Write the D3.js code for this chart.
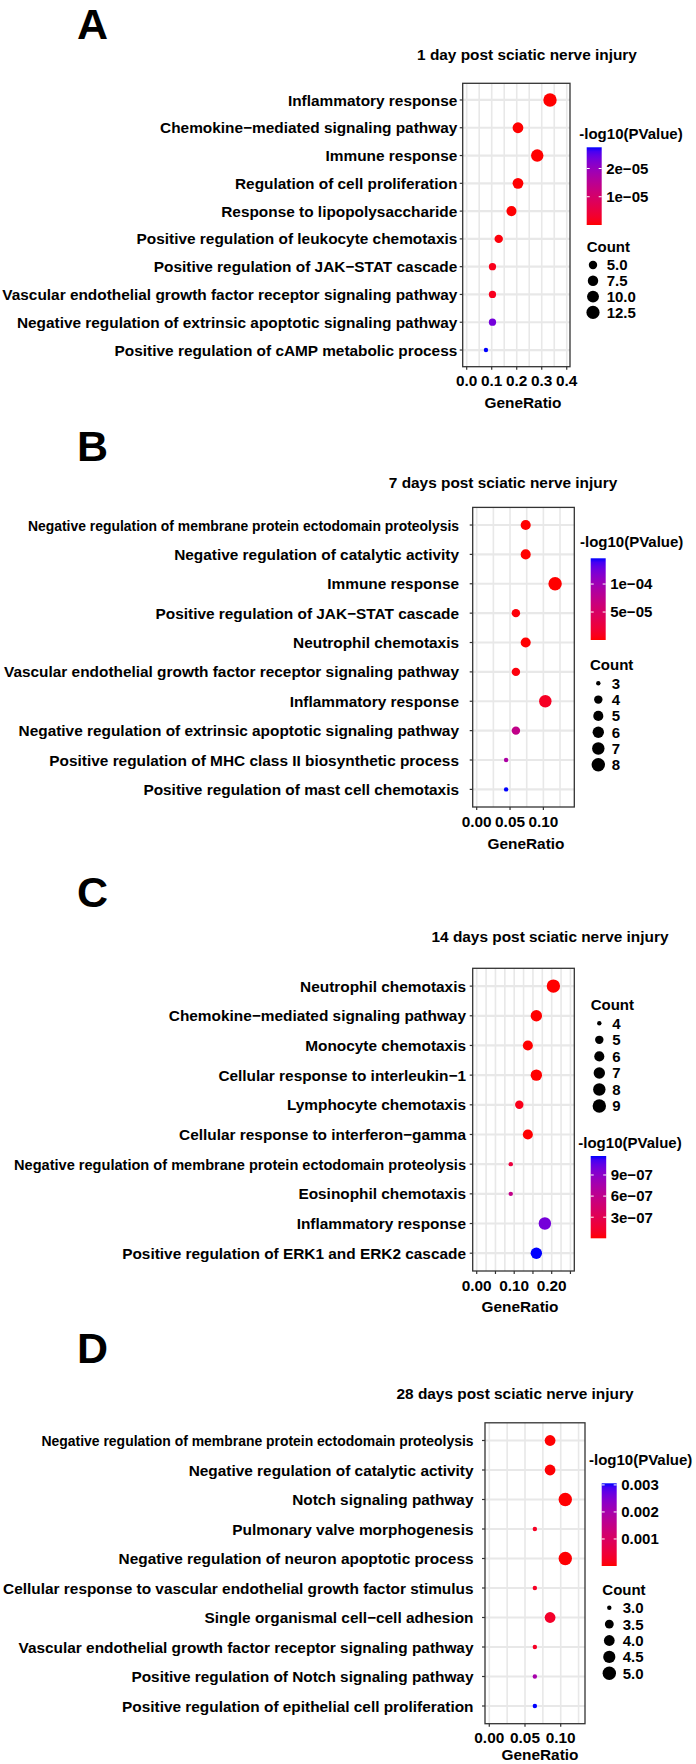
<!DOCTYPE html>
<html>
<head>
<meta charset="utf-8">
<script src="https://cdn.jsdelivr.net/npm/d3@7"></script>
<style>
  html, body { margin: 0; padding: 0; background: #fff; }
  svg { display: block; }
  text { font-family: "Liberation Sans", Arial, sans-serif; font-weight: bold; fill: #000; }
</style>
</head>
<body>
<svg id="chart" width="696" height="1764"></svg>
<script>
// ---------------- DATA ----------------
const panelLetters = ["A", "B", "C", "D"];
const panelTitles = [
  "1 day post sciatic nerve injury",
  "7 days post sciatic nerve injury",
  "14 days post sciatic nerve injury",
  "28 days post sciatic nerve injury"
];

// Panel A
const termsA = [
  "Inflammatory response",
  "Chemokine\u2212mediated signaling pathway",
  "Immune response",
  "Regulation of cell proliferation",
  "Response to lipopolysaccharide",
  "Positive regulation of leukocyte chemotaxis",
  "Positive regulation of JAK\u2212STAT cascade",
  "Vascular endothelial growth factor receptor signaling pathway",
  "Negative regulation of extrinsic apoptotic signaling pathway",
  "Positive regulation of cAMP metabolic process"
];
const ratioA = [0.333, 0.205, 0.282, 0.205, 0.179, 0.128, 0.103, 0.103, 0.103, 0.077];
const countA = [13, 8, 11, 8, 7, 5, 4, 4, 4, 3];
const pvalA  = [1e-9, 5e-9, 2e-9, 3e-8, 1e-7, 5e-7, 1.5e-6, 1.8e-6, 2.34e-5, 2.75e-5];

// Panel B
const termsB = [
  "Negative regulation of membrane protein ectodomain proteolysis",
  "Negative regulation of catalytic activity",
  "Immune response",
  "Positive regulation of JAK\u2212STAT cascade",
  "Neutrophil chemotaxis",
  "Vascular endothelial growth factor receptor signaling pathway",
  "Inflammatory response",
  "Negative regulation of extrinsic apoptotic signaling pathway",
  "Positive regulation of MHC class II biosynthetic process",
  "Positive regulation of mast cell chemotaxis"
];
const ratioB = [0.0735, 0.0735, 0.1176, 0.0588, 0.0735, 0.0588, 0.1029, 0.0588, 0.0441, 0.0441];
const countB = [5, 5, 8, 4, 5, 4, 7, 4, 3, 3];
const pvalB  = [1e-7, 3e-7, 1e-8, 2e-6, 5e-7, 3e-6, 1.17e-5, 7.3e-5, 9.05e-5, 1.46e-4];

// Panel C
const termsC = [
  "Neutrophil chemotaxis",
  "Chemokine\u2212mediated signaling pathway",
  "Monocyte chemotaxis",
  "Cellular response to interleukin\u22121",
  "Lymphocyte chemotaxis",
  "Cellular response to interferon\u2212gamma",
  "Negative regulation of membrane protein ectodomain proteolysis",
  "Eosinophil chemotaxis",
  "Inflammatory response",
  "Positive regulation of ERK1 and ERK2 cascade"
];
const ratioC = [0.2045, 0.1591, 0.1364, 0.1591, 0.1136, 0.1364, 0.0909, 0.0909, 0.1818, 0.1591];
const countC = [9, 7, 6, 7, 5, 6, 4, 4, 8, 7];
const pvalC  = [1e-12, 5e-11, 2e-10, 1e-10, 5.9e-8, 1e-9, 2.1e-7, 5.85e-7, 9.9e-7, 1.17e-6];

// Panel D
const termsD = [
  "Negative regulation of membrane protein ectodomain proteolysis",
  "Negative regulation of catalytic activity",
  "Notch signaling pathway",
  "Pulmonary valve morphogenesis",
  "Negative regulation of neuron apoptotic process",
  "Cellular response to vascular endothelial growth factor stimulus",
  "Single organismal cell\u2212cell adhesion",
  "Vascular endothelial growth factor receptor signaling pathway",
  "Positive regulation of Notch signaling pathway",
  "Positive regulation of epithelial cell proliferation"
];
const ratioD = [0.0851, 0.0851, 0.1064, 0.0638, 0.1064, 0.0638, 0.0851, 0.0638, 0.0638, 0.0638];
const countD = [4, 4, 5, 3, 5, 3, 4, 3, 3, 3];
const pvalD  = [1e-5, 2e-5, 1e-5, 2.4e-4, 1.5e-5, 2.4e-4, 3.1e-4, 2.5e-4, 1.99e-3, 3.06e-3];

// Axis ticks / labels
const xTicksA = [0, 0.1, 0.2, 0.3, 0.4];
const xTickLabelsA = ["0.0", "0.1", "0.2", "0.3", "0.4"];
const xTicksB = [0, 0.05, 0.10];
const xTickLabelsB = ["0.00", "0.05", "0.10"];
const xTicksC = [0, 0.05, 0.10, 0.15, 0.20, 0.25];
const xTickLabelsC = ["0.00", "", "0.10", "", "0.20", ""];
const xTicksD = [0, 0.05, 0.10];
const xTickLabelsD = ["0.00", "0.05", "0.10"];

const gridA = [0, 0.05, 0.1, 0.15, 0.2, 0.25, 0.3, 0.35, 0.4];
const gridB = [0, 0.025, 0.05, 0.075, 0.1, 0.125];
const gridC = [0, 0.025, 0.05, 0.075, 0.1, 0.125, 0.15, 0.175, 0.2, 0.225, 0.25];
const gridD = [0, 0.025, 0.05, 0.075, 0.1, 0.125];

// Legend breaks
const pTicksA = [1e-5, 2e-5];        const pTickLabelsA = ["1e\u221205", "2e\u221205"];
const pTicksB = [5e-5, 1e-4];        const pTickLabelsB = ["5e\u221205", "1e\u221204"];
const pTicksC = [3e-7, 6e-7, 9e-7];  const pTickLabelsC = ["3e\u221207", "6e\u221207", "9e\u221207"];
const pTicksD = [0.001, 0.002, 0.003]; const pTickLabelsD = ["0.001", "0.002", "0.003"];

const sizeBreaksA = [5, 7.5, 10, 12.5]; const sizeLabelsA = ["5.0", "7.5", "10.0", "12.5"];
const sizeBreaksB = [3, 4, 5, 6, 7, 8]; const sizeLabelsB = ["3", "4", "5", "6", "7", "8"];
const sizeBreaksC = [4, 5, 6, 7, 8, 9]; const sizeLabelsC = ["4", "5", "6", "7", "8", "9"];
const sizeBreaksD = [3, 3.5, 4, 4.5, 5]; const sizeLabelsD = ["3.0", "3.5", "4.0", "4.5", "5.0"];

// ---------------- LAYOUT ----------------
const LONG = "Negative regulation of membrane protein ectodomain proteolysis";
const panels = [
  { terms: termsA, ratio: ratioA, count: countA, pval: pvalA,
    xTicks: xTicksA, xTickLabels: xTickLabelsA, grid: gridA,
    pTicks: pTicksA, pTickLabels: pTickLabelsA, sizeBreaks: sizeBreaksA, sizeLabels: sizeLabelsA,
    L: { left: 462.7, right: 570, top: 83.3, bottom: 366.7, xDom: [-0.016, 0.413],
         labelEnd: 457.3, fit: {}, letterY: 39, titleX: 527, titleY: 60, axisTitleX: 523, axisTitleDy: 36,
         pDom: [0, 2.75e-5],
         cb: { x: 586.7, w: 15, top: 147.3, bottom: 225, titleX: 579.3, titleY: 133.3 },
         sz: { titleX: 586.7, titleY: 247, keyX: 593, y0: 265, step: 15.8, labelX: 606.7 } } },
  { terms: termsB, ratio: ratioB, count: countB, pval: pvalB,
    xTicks: xTicksB, xTickLabels: xTickLabelsB, grid: gridB,
    pTicks: pTicksB, pTickLabels: pTickLabelsB, sizeBreaks: sizeBreaksB, sizeLabels: sizeLabelsB,
    L: { left: 472.7, right: 574.3, top: 507.4, bottom: 807, xDom: [-0.006, 0.1464],
         labelEnd: 459, fit: { [LONG]: 431 }, letterY: 461, titleX: 503, titleY: 487.5, axisTitleX: 526, axisTitleDy: 36,
         pDom: [0, 1.46e-4],
         cb: { x: 590.7, w: 15, top: 558.3, bottom: 640, titleX: 580, titleY: 541.7 },
         sz: { titleX: 590, titleY: 664.3, keyX: 598.3, y0: 683.3, step: 16.3, labelX: 611.7 } } },
  { terms: termsC, ratio: ratioC, count: countC, pval: pvalC,
    xTicks: xTicksC, xTickLabels: xTickLabelsC, grid: gridC,
    pTicks: pTicksC, pTickLabels: pTickLabelsC, sizeBreaks: sizeBreaksC, sizeLabels: sizeLabelsC,
    L: { left: 472.7, right: 574.3, top: 968.3, bottom: 1271, xDom: [-0.0107, 0.2603],
         labelEnd: 466, fit: { [LONG]: 452 }, letterY: 907, titleX: 550, titleY: 941.5, axisTitleX: 520, axisTitleDy: 35.5,
         pDom: [0, 1.17e-6],
         cb: { x: 590.7, w: 15.5, top: 1156, bottom: 1238.3, titleX: 578.3, titleY: 1142.3 },
         sz: { titleX: 590.7, titleY: 1005, keyX: 599.3, y0: 1023.3, step: 16.55, labelX: 612.3 } } },
  { terms: termsD, ratio: ratioD, count: countD, pval: pvalD,
    xTicks: xTicksD, xTickLabels: xTickLabelsD, grid: gridD,
    pTicks: pTicksD, pTickLabels: pTickLabelsD, sizeBreaks: sizeBreaksD, sizeLabels: sizeLabelsD,
    L: { left: 485, right: 585, top: 1422.8, bottom: 1723.7, xDom: [-0.006, 0.134],
         labelEnd: 473.5, fit: { [LONG]: 432 }, letterY: 1363, titleX: 515, titleY: 1399, axisTitleX: 540, axisTitleDy: 30.5,
         pDom: [0, 3.06e-3],
         cb: { x: 601.7, w: 15, top: 1483.3, bottom: 1566, titleX: 589, titleY: 1460 },
         sz: { titleX: 602.3, titleY: 1589.3, keyX: 609.3, y0: 1607.7, step: 16.4, labelX: 622.7 } } }
];

const FS = 15.4;
const svg = d3.select("#chart");
svg.append("rect").attr("width", 696).attr("height", 1764).attr("fill", "#fff");
const defs = svg.append("defs");

panels.forEach((p, pi) => {
  const L = p.L;
  const g = svg.append("g");

  // letter + title
  g.append("text").attr("x", 77).attr("y", L.letterY)
    .style("font-size", "43px").text(panelLetters[pi]);
  g.append("text").attr("x", L.titleX).attr("y", L.titleY)
    .attr("text-anchor", "middle").style("font-size", FS + "px").text(panelTitles[pi]);

  // scales
  const x = d3.scaleLinear().domain(L.xDom).range([L.left, L.right]);
  const y = d3.scalePoint().domain(p.terms).range([L.top, L.bottom]).padding(0.6);
  const cmin = d3.min(p.count), cmax = d3.max(p.count);
  const sizeScale = d3.scaleSqrt().domain([0, cmax - cmin]).range([1, 6]);
  const radius = c => (1.8 * sizeScale(c - cmin) + 2.6) / 2;
  const color = d3.scaleLinear().domain(L.pDom).range(["#FF0000", "#0000FF"])
    .interpolate(d3.interpolateLab).clamp(true);

  // panel background and grid
  g.append("rect").attr("x", L.left).attr("y", L.top)
    .attr("width", L.right - L.left).attr("height", L.bottom - L.top).attr("fill", "#fff");
  g.append("g").selectAll("line").data(p.grid).join("line")
    .attr("x1", d => x(d)).attr("x2", d => x(d))
    .attr("y1", L.top).attr("y2", L.bottom)
    .attr("stroke", "#e8e8e8").attr("stroke-width", 1.6);
  g.append("g").selectAll("line").data(p.terms).join("line")
    .attr("x1", L.left).attr("x2", L.right)
    .attr("y1", d => y(d)).attr("y2", d => y(d))
    .attr("stroke", "#e8e8e8").attr("stroke-width", 2.2);

  // points
  const idx = d3.range(p.terms.length);
  g.append("g").selectAll("circle").data(idx).join("circle")
    .attr("cx", i => x(p.ratio[i])).attr("cy", i => y(p.terms[i]))
    .attr("r", i => radius(p.count[i]))
    .attr("fill", i => color(p.pval[i]));

  // border
  g.append("rect").attr("x", L.left).attr("y", L.top)
    .attr("width", L.right - L.left).attr("height", L.bottom - L.top)
    .attr("fill", "none").attr("stroke", "#333").attr("stroke-width", 1.3);

  // y axis ticks + labels
  g.append("g").selectAll("line").data(p.terms).join("line")
    .attr("x1", L.left - 3).attr("x2", L.left)
    .attr("y1", d => y(d)).attr("y2", d => y(d))
    .attr("stroke", "#333").attr("stroke-width", 1.2);
  g.append("g").selectAll("text").data(p.terms).join("text")
    .attr("x", L.labelEnd).attr("y", d => y(d)).attr("dy", "0.36em")
    .attr("text-anchor", "end").style("font-size", FS + "px").text(d => d)
    .each(function (d) {
      if (L.fit[d]) {
        d3.select(this).attr("textLength", L.fit[d]).attr("lengthAdjust", "spacingAndGlyphs");
      }
    });

  // x axis ticks + labels
  g.append("g").selectAll("line").data(p.xTicks).join("line")
    .attr("x1", d => x(d)).attr("x2", d => x(d))
    .attr("y1", L.bottom).attr("y2", L.bottom + 3)
    .attr("stroke", "#333").attr("stroke-width", 1.2);
  g.append("g").selectAll("text").data(p.xTicks).join("text")
    .attr("x", d => x(d)).attr("y", L.bottom + 14).attr("dy", "0.36em")
    .attr("text-anchor", "middle").style("font-size", FS + "px")
    .text((d, i) => p.xTickLabels[i]);
  g.append("text").attr("x", L.axisTitleX).attr("y", L.bottom + L.axisTitleDy).attr("dy", "0.36em")
    .attr("text-anchor", "middle").style("font-size", FS + "px").text("GeneRatio");

  // colour bar legend
  const cb = L.cb;
  const gid = "grad" + pi;
  const grad = defs.append("linearGradient").attr("id", gid)
    .attr("x1", 0).attr("y1", 1).attr("x2", 0).attr("y2", 0);
  d3.range(0, 1.0001, 0.05).forEach(t => {
    grad.append("stop").attr("offset", t)
      .attr("stop-color", color(L.pDom[0] + t * (L.pDom[1] - L.pDom[0])));
  });
  g.append("text").attr("x", cb.titleX).attr("y", cb.titleY).attr("dy", "0.36em")
    .style("font-size", "15px").text("-log10(PValue)");
  g.append("rect").attr("x", cb.x).attr("y", cb.top).attr("width", cb.w)
    .attr("height", cb.bottom - cb.top).attr("fill", `url(#${gid})`);
  const py = d3.scaleLinear().domain(L.pDom).range([cb.bottom, cb.top]);
  p.pTicks.forEach((v, i) => {
    g.append("line").attr("x1", cb.x).attr("x2", cb.x + 3)
      .attr("y1", py(v)).attr("y2", py(v)).attr("stroke", "#fff").attr("stroke-width", 1);
    g.append("line").attr("x1", cb.x + cb.w - 3).attr("x2", cb.x + cb.w)
      .attr("y1", py(v)).attr("y2", py(v)).attr("stroke", "#fff").attr("stroke-width", 1);
    g.append("text").attr("x", cb.x + cb.w + 4.5).attr("y", py(v)).attr("dy", "0.36em")
      .style("font-size", "15px").text(p.pTickLabels[i]);
  });

  // size legend
  const sz = L.sz;
  g.append("text").attr("x", sz.titleX).attr("y", sz.titleY).attr("dy", "0.36em")
    .style("font-size", "15px").text("Count");
  p.sizeBreaks.forEach((v, i) => {
    const yy = sz.y0 + i * sz.step;
    g.append("circle").attr("cx", sz.keyX).attr("cy", yy).attr("r", radius(v)).attr("fill", "#000");
    g.append("text").attr("x", sz.labelX).attr("y", yy).attr("dy", "0.36em")
      .style("font-size", "15px").text(p.sizeLabels[i]);
  });
});
</script>
</body>
</html>
